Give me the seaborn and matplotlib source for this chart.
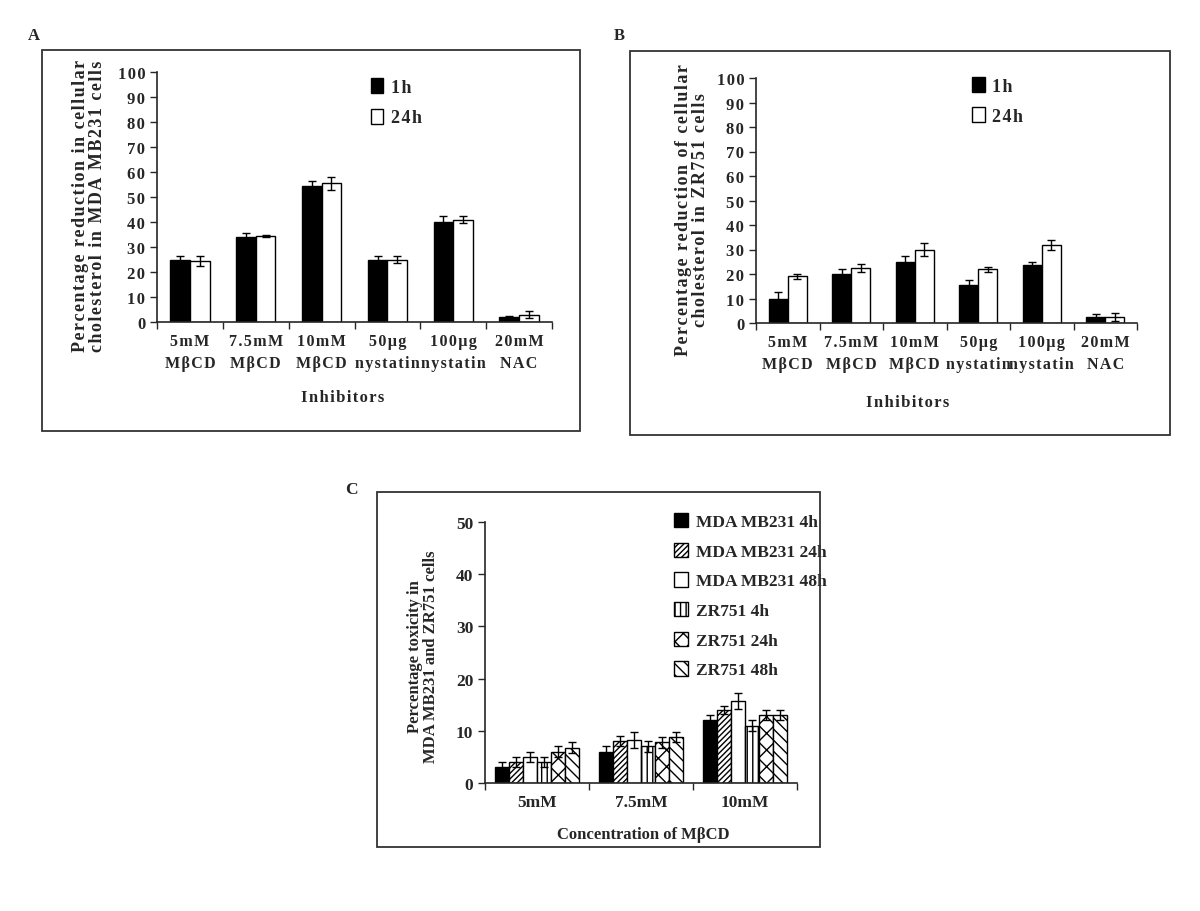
import matplotlib.pyplot as plt
import matplotlib.patches as mpatches
import pandas as pd
import seaborn as sns

# Panel A / B data (percentage reduction of cellular cholesterol)
inhibitors = ['5mM\nMβCD', '7.5mM\nMβCD', '10mM\nMβCD', '50µg\nnystatin', '100µg\nnystatin', '20mM\nNAC']
times_ab = ['1h', '24h']
a_1h = [25, 34, 54.5, 25, 40, 2]
a_24h = [24.5, 34.5, 55.5, 25, 41, 3]
a_1h_err = [1.3, 1.5, 2, 1.3, 2.5, 0.5]
a_24h_err = [2, 0.5, 2.5, 1.5, 1.5, 1.5]
b_1h = [10, 20, 25, 15.5, 23.5, 2.5]
b_24h = [19, 22.5, 30, 22, 32, 2.5]
b_1h_err = [2.5, 2, 2.5, 2, 1.5, 1.2]
b_24h_err = [1, 1.5, 2.5, 1, 2, 1.5]

# Panel C data (percentage toxicity)
concs = ['5mM', '7.5mM', '10mM']
series_c = ['MDA MB231 4h', 'MDA MB231 24h', 'MDA MB231 48h', 'ZR751 4h', 'ZR751 24h', 'ZR751 48h']
c_vals = [[3, 6, 12], [4, 8, 14], [5, 8.3, 15.7], [4, 7, 11], [6, 7.8, 13], [6.8, 8.8, 13]]
c_errs = [[1, 1, 1], [1, 1, 0.8], [1, 1.5, 1.5], [1, 1, 1], [1, 1, 1], [1, 1, 1]]

sns.set_style('ticks')
plt.rcParams['font.family'] = ['Liberation Serif', 'DejaVu Serif']
plt.rcParams['font.weight'] = 'bold'
plt.rcParams['hatch.linewidth'] = 1.0

W, H = 1200, 912
fig = plt.figure(figsize=(12, 9.12), dpi=100)


def spaced(s, sp='\u200a'):
    # panels A and B use letter-spaced type
    return '\n'.join(sp.join(line) for line in s.split('\n'))


def px_axes(l, t, r, b):
    return fig.add_axes([l / W, 1 - b / H, (r - l) / W, (b - t) / H])


def frame(l, t, r, b):
    fig.patches.append(mpatches.Rectangle((l / W, 1 - b / H), (r - l) / W, (b - t) / H,
                                          transform=fig.transFigure, fill=False,
                                          edgecolor='#333333', linewidth=1.3))


def style_axis(ax, n, ymax, step):
    ax.set_xlim(-0.5, n - 0.5)
    ax.set_ylim(0, ymax)
    ax.set_yticks(range(0, ymax + 1, step))
    ax.set_xticks([i - 0.5 for i in range(n + 1)], minor=True)
    ax.tick_params(axis='x', which='major', length=0, pad=8)
    ax.tick_params(axis='x', which='minor', length=5, width=1, direction='out')
    ax.tick_params(axis='y', length=5, width=1, direction='out')
    for s in ['top', 'right']:
        ax.spines[s].set_visible(False)
    for s in ['left', 'bottom']:
        ax.spines[s].set_linewidth(1.2)
    ax.set_xlabel('')
    ax.set_ylabel('')


def add_errors(ax, errs):
    for cont, err in zip(ax.containers, errs):
        xs = [p.get_x() + p.get_width() / 2 for p in cont.patches]
        ys = [p.get_height() for p in cont.patches]
        ax.errorbar(xs, ys, yerr=err, fmt='none', ecolor='black', elinewidth=1, capsize=3, capthick=1)


def panel_ab(box, axbox, v1, v2, e1, e2, letter, lpos, ylab, ylab_x, ylab_y, xlab_pos, leg_anchor):
    frame(*box)
    ax = px_axes(*axbox)
    df = pd.DataFrame({'inhibitor': inhibitors * 2,
                       'time': [times_ab[0]] * 6 + [times_ab[1]] * 6,
                       'value': v1 + v2})
    sns.barplot(data=df, x='inhibitor', y='value', hue='time', palette=['black', 'white'],
                edgecolor='black', linewidth=1, width=0.6, saturation=1, errorbar=None,
                legend=False, ax=ax)
    add_errors(ax, [e1, e2])
    style_axis(ax, 6, 100, 10)
    ax.set_xticks(range(6), [spaced(t) for t in inhibitors], fontsize=11.5)
    for lbl in ax.get_xticklabels():
        lbl.set_linespacing(1.45)
    ax.set_yticks(range(0, 101, 10), [spaced(str(v)) for v in range(0, 101, 10)], fontsize=12)
    handles = [mpatches.Patch(facecolor=c, edgecolor='black', label=spaced(t))
               for c, t in zip(['black', 'white'], times_ab)]
    ax.legend(handles=handles, loc='upper left', bbox_to_anchor=leg_anchor, frameon=False,
              fontsize=13, handlelength=0.7, handleheight=0.9, handletextpad=0.4, labelspacing=0.7)
    fig.text(lpos[0] / W, 1 - lpos[1] / H, letter, fontsize=12, ha='left', va='center')
    fig.text(ylab_x / W, 1 - ylab_y / H, spaced(ylab), rotation=90, ha='center', va='center',
             fontsize=13, multialignment='center', linespacing=1.0)
    fig.text(xlab_pos[0] / W, 1 - xlab_pos[1] / H, spaced('Inhibitors'), ha='center',
             va='center', fontsize=12)


panel_ab((42, 51, 580, 432), (157, 73, 552, 323), a_1h, a_24h, a_1h_err, a_24h_err,
         'A', (28, 36), 'Percentage reduction in cellular\ncholesterol in MDA MB231 cells',
         89, 206, (343, 398), (0.5, 1.04))
panel_ab((630, 52, 1170, 436), (756, 79, 1137, 324), b_1h, b_24h, b_1h_err, b_24h_err,
         'B', (614, 36), 'Percentage reduction of cellular\ncholesterol in ZR751 cells',
         692, 210, (908, 403), (0.525, 1.07))

# Panel C
frame(377, 493, 820, 848)
axc = px_axes(485, 523, 797, 784)
rows = []
for s, vals in zip(series_c, c_vals):
    for c, v in zip(concs, vals):
        rows.append({'conc': c, 'series': s, 'value': v})
dfc = pd.DataFrame(rows)
colors_c = ['black', 'white', 'white', 'white', 'white', 'white']
hatches_c = ['', '//////', '', '|||', 'xx', '\\\\\\']
sns.barplot(data=dfc, x='conc', y='value', hue='series', palette=colors_c,
            edgecolor='black', linewidth=1, width=0.8, saturation=1, errorbar=None,
            legend=False, ax=axc)
for cont, h in zip(axc.containers, hatches_c):
    for p in cont.patches:
        p.set_hatch(h)
add_errors(axc, c_errs)
style_axis(axc, 3, 50, 10)
axc.tick_params(axis='both', labelsize=12.5)
handles_c = [mpatches.Patch(facecolor=c, edgecolor='black', hatch=h, label=s)
             for c, h, s in zip(colors_c, hatches_c, series_c)]
axc.legend(handles=handles_c, loc='upper left', bbox_to_anchor=(0.555, 1.095), frameon=False,
           fontsize=12.5, handlelength=0.8, handleheight=0.9, handletextpad=0.5, labelspacing=0.72)
fig.text(345 / W, 1 - 490 / H, 'C', fontsize=12.5, ha='left', va='center')
fig.text(423 / W, 1 - 657 / H, 'Percentage toxicity in\nMDA MB231 and ZR751 cells', rotation=90,
         ha='center', va='center', fontsize=12, multialignment='center', linespacing=1.0)
fig.text(643 / W, 1 - 835 / H, 'Concentration of MβCD', ha='center', va='center', fontsize=12)

fig.savefig('out.png', dpi=100)
